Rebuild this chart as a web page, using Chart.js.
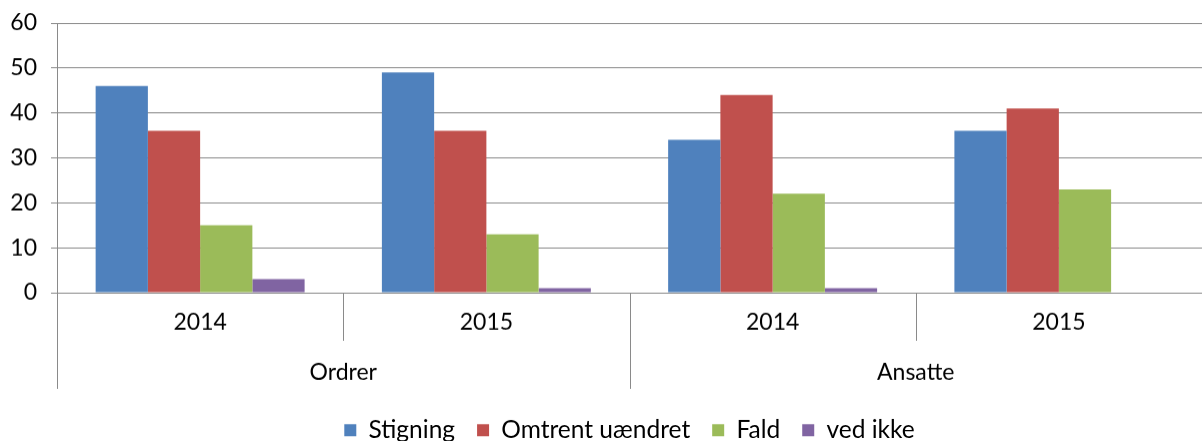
<!DOCTYPE html>
<html>
<head>
<meta charset="utf-8">
<script src="https://cdn.jsdelivr.net/npm/chart.js@4/dist/chart.umd.min.js"></script>
<style>
  html, body { margin: 0; padding: 0; background: #fff; overflow: hidden; }
  #wrap { width: 1202px; height: 451.5px; position: relative; }
</style>
</head>
<body>
<div id="wrap"><canvas id="chart"></canvas></div>
<script>
// Chart data
const years = ['2014', '2015', '2014', '2015'];
const groups = ['Ordrer', 'Ansatte'];
const groupSizes = [2, 2];
const seriesNames = ['Stigning', 'Omtrent uændret', 'Fald', 'ved ikke'];
const stigning = [46, 49, 34, 36];
const omtrent = [36, 36, 44, 41];
const fald = [15, 13, 22, 23];
const vedIkke = [3, 1, 1, 0];
const yTicks = [0, 10, 20, 30, 40, 50, 60];

const colors = ['#4F81BD', '#C0504D', '#9BBB59', '#8064A2'];
const gridColor = '#8a8a8a';
const fontFamily = 'Lato, "Noto Sans", sans-serif';
const fontSize = 23;
const legendFontSize = 24.5;

// Draws the two-level category axis (years, then groups) under the plot
const groupAxis = {
    id: 'groupAxis',
    afterDraw(chart) {
        const { ctx, chartArea } = chart;
        const x = chart.scales.x;
        const base = chartArea.bottom;
        ctx.save();
        ctx.strokeStyle = gridColor;
        ctx.lineWidth = 1;

        // left edge of the axis block
        ctx.beginPath();
        ctx.moveTo(chartArea.left + 0.5, base);
        ctx.lineTo(chartArea.left + 0.5, base + 96);
        ctx.stroke();

        // separators between categories, longer between groups
        const groupEnds = [];
        let acc = 0;
        groupSizes.forEach(s => { acc += s; groupEnds.push(acc - 1); });
        for (let i = 0; i < years.length - 1; i++) {
            const bx = Math.round((x.getPixelForValue(i) + x.getPixelForValue(i + 1)) / 2) + 0.5;
            const len = groupEnds.includes(i) ? 96 : 48;
            ctx.beginPath();
            ctx.moveTo(bx, base);
            ctx.lineTo(bx, base + len);
            ctx.stroke();
        }

        ctx.fillStyle = '#000';
        ctx.font = fontSize + 'px ' + fontFamily;
        ctx.textAlign = 'center';
        ctx.textBaseline = 'middle';
        years.forEach((y, i) => {
            ctx.fillText(y, x.getPixelForValue(i), base + 30);
        });

        let start = 0;
        groups.forEach((g, gi) => {
            const end = start + groupSizes[gi] - 1;
            const cx = (x.getPixelForValue(start) + x.getPixelForValue(end)) / 2;
            ctx.fillText(g, cx, base + 80);
            start = end + 1;
        });
        ctx.restore();
    }
};

const ctx = document.getElementById('chart').getContext('2d');
new Chart(ctx, {
    type: 'bar',
    data: {
        labels: years,
        datasets: [stigning, omtrent, fald, vedIkke].map((vals, i) => ({
            label: seriesNames[i],
            data: vals,
            backgroundColor: colors[i],
            borderWidth: 0,
            categoryPercentage: 0.73,
            barPercentage: 1.0,
        })),
    },
    options: {
        responsive: true,
        maintainAspectRatio: false,
        animation: false,
        layout: { padding: { top: 23, left: 0, right: 0 } },
        plugins: {
            tooltip: { enabled: false },
            legend: {
                position: 'bottom',
                fullSize: false,
                labels: {
                    boxWidth: 12,
                    boxHeight: 12,
                    padding: 22,
                    color: '#000',
                    font: { family: fontFamily, size: legendFontSize },
                },
            },
        },
        scales: {
            x: {
                grid: { display: false },
                border: { display: true, color: gridColor },
                ticks: { display: false },
                afterFit: (scale) => { scale.height = 103; },
            },
            y: {
                min: 0,
                max: 60,
                afterBuildTicks: (scale) => { scale.ticks = yTicks.map(v => ({ value: v })); },
                grid: { color: gridColor, tickLength: 6 },
                border: { color: gridColor },
                ticks: {
                    color: '#000',
                    padding: 14,
                    font: { family: fontFamily, size: fontSize },
                },
                afterFit: (scale) => {
                    scale.width = 57;
                    scale.paddingTop = 0;
                    scale.paddingBottom = 0;
                },
            },
        },
    },
    plugins: [groupAxis],
});
</script>
</body>
</html>
